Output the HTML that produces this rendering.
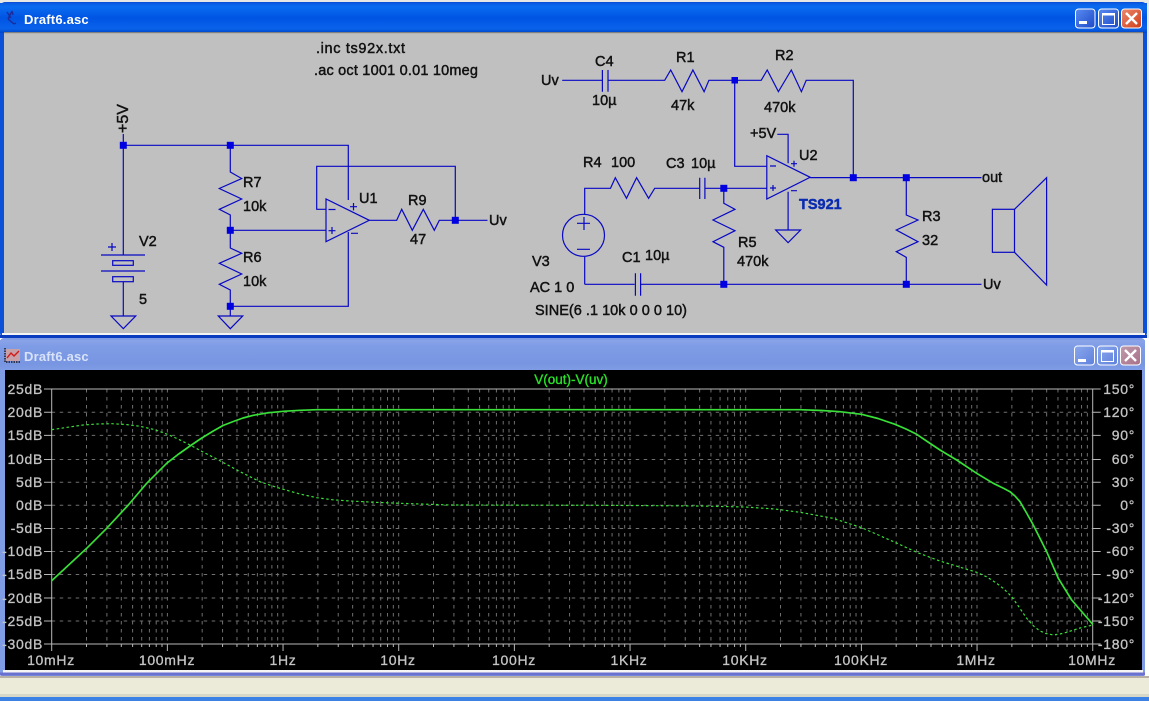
<!DOCTYPE html>
<html><head><meta charset="utf-8"><style>
html,body{margin:0;padding:0;background:#fff;width:1149px;height:701px;overflow:hidden}
svg{position:absolute;left:0;top:0;display:block}
.s text{font-family:"Liberation Sans",sans-serif;font-size:14.5px;fill:#111;stroke:#111;stroke-width:.45}
.p text{font-family:"Liberation Sans",sans-serif;font-size:14px;fill:#c4c4c4;stroke:#c4c4c4;stroke-width:.3;letter-spacing:.7px}
.w{fill:none;stroke:#0808c4;stroke-width:1.2}
.j{fill:#0000e0}
.t{font-family:"Liberation Sans",sans-serif;font-size:13px;font-weight:bold;letter-spacing:.2px}
</style></head><body>
<svg width="1149" height="701" viewBox="0 0 1149 701">
<defs>
<linearGradient id="tb" x1="0" y1="0" x2="0" y2="1"><stop offset="0" stop-color="#0a5ae0"/><stop offset=".12" stop-color="#0a6cf0"/><stop offset=".5" stop-color="#0054e3"/><stop offset=".85" stop-color="#0a62ea"/><stop offset="1" stop-color="#0046c8"/></linearGradient>
<linearGradient id="tb2" x1="0" y1="0" x2="0" y2="1"><stop offset="0" stop-color="#8ba4e8"/><stop offset=".2" stop-color="#7f9ce6"/><stop offset=".8" stop-color="#7895e2"/><stop offset="1" stop-color="#7f9ce4"/></linearGradient>
<linearGradient id="bb" x1="0" y1="0" x2="1" y2="1"><stop offset="0" stop-color="#5a8cf0"/><stop offset="1" stop-color="#1c48c8"/></linearGradient>
<linearGradient id="rb" x1="0" y1="0" x2="1" y2="1"><stop offset="0" stop-color="#ec8a6c"/><stop offset="1" stop-color="#d03c18"/></linearGradient>
<linearGradient id="bb2" x1="0" y1="0" x2="1" y2="1"><stop offset="0" stop-color="#8aa8ec"/><stop offset="1" stop-color="#5f80dc"/></linearGradient>
<linearGradient id="rb2" x1="0" y1="0" x2="1" y2="1"><stop offset="0" stop-color="#c09aac"/><stop offset="1" stop-color="#a87088"/></linearGradient>
<g id="dec" fill="none" stroke="#707070" stroke-width="1" stroke-dasharray="3.5 4.5">
<path d="M34.8 389V644M55.2 389V644M69.6 389V644M80.9 389V644M90 389V644M97.7 389V644M104.5 389V644M110.3 389V644"/>
</g>
<g id="tick" fill="none" stroke="#b8b8b8" stroke-width="1">
<path d="M34.8 644v3M55.2 644v3M69.6 644v3M80.9 644v3M90 644v3M97.7 644v3M104.5 644v3M110.3 644v3M115.67 644v7"/>
</g>
</defs>

<!-- window frames -->
<rect x="0" y="0" width="1149" height="3" fill="#e8e8e4"/>
<rect x="0" y="2" width="1147" height="336" rx="5" fill="#0a50d8"/>
<rect x="0" y="3" width="1147" height="30" fill="url(#tb)"/>
<rect x="4" y="32" width="1139" height="301" fill="#c0c0c0"/>
<rect x="4" y="32" width="1139" height="1.2" fill="#808080"/>
<rect x="2" y="333" width="1143" height="2" fill="#f4f4f4"/>
<rect x="0" y="335" width="1147" height="3" fill="#0a3cc0"/>
<rect x="1147" y="0" width="2" height="338" fill="#e8e8e4"/>

<rect x="0" y="338" width="1145" height="339" rx="4" fill="#7f9ce4"/>
<rect x="0" y="340" width="1145" height="30" fill="url(#tb2)"/>
<rect x="5" y="370" width="1137" height="300" fill="#000"/>
<rect x="3" y="670" width="1140" height="2.5" fill="#f4f4f4"/>
<rect x="0" y="672.5" width="1145" height="3" fill="#6a70d0"/>
<rect x="0" y="676" width="1149" height="2" fill="#b8b0a4"/>
<rect x="0" y="678" width="1149" height="19" fill="#ecead8"/>
<rect x="0" y="694" width="1149" height="3" fill="#d8d8c8"/>
<rect x="0" y="697" width="1149" height="4" fill="#3c82e4"/>

<!-- title text -->
<path d="M8 19l4-8M12 11l1 4M8 19l6 5M14 24l2-1M7 12l4 6" fill="none" stroke="#1a2c9c" stroke-width="1.4"/>
<text x="24" y="24" fill="#fff" class="t">Draft6.asc</text>
<rect x="6" y="349" width="14" height="12" fill="#c8a0a8"/>
<path d="M7 358l4-5 3 3 5-5" fill="none" stroke="#d01818" stroke-width="1.4"/>
<path d="M5 348v14h16" fill="none" stroke="#000" stroke-width="1.2" stroke-dasharray="1.5 1"/>
<text x="24" y="361" fill="#d8e2f8" class="t">Draft6.asc</text>

<!-- buttons -->
<g stroke="#fff" stroke-width="1">
<rect x="1075.5" y="9" width="19.5" height="19" rx="3" fill="url(#bb)"/>
<rect x="1098.5" y="9" width="20" height="19" rx="3" fill="url(#bb)"/>
<rect x="1121.5" y="9" width="20" height="19" rx="3" fill="url(#rb)"/>
<rect x="1074.5" y="346" width="20" height="19" rx="3" fill="url(#bb2)"/>
<rect x="1097.5" y="346" width="20" height="19" rx="3" fill="url(#bb2)"/>
<rect x="1120.5" y="346" width="20" height="19" rx="3" fill="url(#rb2)"/>
</g>
<g fill="#fff" stroke="none">
<rect x="1079" y="21" width="8" height="3"/>
<rect x="1078" y="359" width="8" height="3"/>
</g>
<g fill="none" stroke="#fff">
<rect x="1102.5" y="13.5" width="12" height="11" stroke-width="1"/><path d="M1102.5 14.5h12" stroke-width="2"/>
<rect x="1101.5" y="350.5" width="12" height="11" stroke-width="1"/><path d="M1101.5 351.5h12" stroke-width="2"/>
<path d="M1126 13l11 11M1137 13l-11 11" stroke-width="2.4"/>
<path d="M1125 350l11 11M1136 350l-11 11" stroke-width="2.4"/>
</g>

<!-- schematic wires -->
<g class="w">
<!-- left -->
<path d="M123.3 134V255"/>
<path d="M123.3 145.3H348.3V200"/>
<path d="M230.3 145.3V172L241.7 178.5 219.3 188.5 241.7 199 219.3 209.3 230.3 215V248L241.7 253.3 219.3 263.3 241.7 274 219.3 284.3 230.3 290V316"/>
<path d="M230.3 306.3H348.3V232"/>
<path d="M230.3 230.3H326"/>
<path d="M326 199V241.7L369.3 220.3Z"/>
<path d="M326 209.3H316.7V166.3H455.3V220.3"/>
<path d="M369.3 220.3H396.7L401.7 209.3 412.3 230.3 423.3 209.3 434.3 230.3 439.3 220.3H487.5"/>
<path d="M101 255H145M101 271H145"/>
<rect x="112.7" y="260.7" width="20.6" height="4.6"/>
<rect x="112.7" y="276.7" width="20.6" height="5"/>
<path d="M123.3 282V316"/>
<path d="M111 316H135.7L123.3 328.7Z"/>
<path d="M218.3 316H242.7L230.3 328.7Z"/>
<path d="M108 247h8M112 243v8"/>
<path d="M350 206.7h7M353.5 203v7.4M351 233.3h7M328.5 209.5h7M328.5 230.7h7M332 227v7"/>
<!-- right -->
<path d="M562.2 80.3H602.4M608 80.3H664.7L670.7 70 682 91.7 692.9 70 704.1 91.7 708.9 80.3H761.2L767.2 70 778.4 91.7 791.3 70 801.4 91.7 806.2 80.3H853.3V177.7"/>
<path d="M602.4 70V91.7M608 70V91.7"/>
<path d="M734.7 80.3V166.3H766.8"/>
<path d="M766.8 155.7V199L810.2 177.3Z"/>
<path d="M810.2 177.6H981.5"/>
<path d="M906.3 177.7V215L918 220 896.3 230 918 241.7 896.3 251.7 906.3 257.3V284.3"/>
<path d="M584.7 284.3H634.6M640.6 284.3H981.5"/>
<path d="M635.4 273.3V295.7M640.6 273.3V295.7"/>
<path d="M723.8 188.3V203.3L735 209.3 713 220 735 230.7 713 241.7 723.8 247.3V284.3"/>
<path d="M766.8 188.3H704.9M699.7 188.3H654.7L648.6 198.3 636.6 177.7 626.5 198.3 615.3 177.7 610.5 188.3H584.7V214"/>
<path d="M699.7 177.7V199M704.9 177.7V199"/>
<ellipse cx="583.5" cy="235.3" rx="21" ry="21"/>
<path d="M584.7 256.7V284.3"/>
<path d="M577 223.3h13M584 217v13M577 249.3h13"/>
<path d="M777.3 134.3H788.1V163.3M788.1 191.7V230"/>
<path d="M775.7 230H800.6L788.1 242.7Z"/>
<path d="M770 166h6M770 188h6M773 185v6M791 163.7h6M794 160.7v6M791 190.7h6"/>
<rect x="992.4" y="209.3" width="22.1" height="43"/>
<path d="M1014.5 209.3L1046.6 177.7V285L1014.5 252.3"/>
</g>
<g class="j">
<rect x="119.8" y="141.8" width="7" height="7"/>
<rect x="226.8" y="141.8" width="7" height="7"/>
<rect x="226.8" y="226.8" width="7" height="7"/>
<rect x="226.8" y="302.8" width="7" height="7"/>
<rect x="451.8" y="216.8" width="7" height="7"/>
<rect x="731.5" y="77" width="6.5" height="6.5"/>
<rect x="849.8" y="174.2" width="7" height="7"/>
<rect x="902.8" y="174.2" width="7" height="7"/>
<rect x="720.3" y="184.8" width="7" height="7"/>
<rect x="720.3" y="280.8" width="7" height="7"/>
<rect x="902.8" y="280.8" width="7" height="7"/>
</g>

<!-- schematic labels -->
<g class="s">
<text x="316" y="53" textLength="89">.inc ts92x.txt</text>
<text x="314" y="75" textLength="164">.ac oct 1001 0.01 10meg</text>
<text transform="translate(128,133) rotate(-90)" style="font-size:16px">+5V</text>
<text x="139" y="246">V2</text><text x="139" y="304">5</text>
<text x="243" y="187">R7</text><text x="243" y="211">10k</text>
<text x="243" y="262">R6</text><text x="243" y="286">10k</text>
<text x="359" y="203">U1</text><text x="408" y="205">R9</text><text x="410" y="244">47</text>
<text x="489" y="225">Uv</text>
<text x="541" y="85">Uv</text>
<text x="595" y="66">C4</text><text x="592" y="105">10µ</text>
<text x="676" y="62">R1</text><text x="671" y="110">47k</text>
<text x="775" y="60">R2</text><text x="764" y="112">470k</text>
<text x="750" y="138">+5V</text><text x="799" y="160">U2</text>
<text x="583" y="167">R4</text><text x="611" y="167">100</text>
<text x="666" y="168">C3</text><text x="691" y="168">10µ</text>
<text x="799" y="209" style="fill:#0a2cb0;stroke:#0a2cb0;font-weight:bold">TS921</text>
<text x="738" y="247">R5</text><text x="737" y="266">470k</text>
<text x="922" y="221">R3</text><text x="922" y="245">32</text>
<text x="982" y="182">out</text><text x="983" y="289">Uv</text>
<text x="532" y="266">V3</text><text x="530" y="292">AC 1 0</text>
<text x="622" y="262">C1</text><text x="645" y="260">10µ</text>
<text x="535" y="315" textLength="152">SINE(6 .1 10k 0 0 0 10)</text>
</g>

<!-- plot grid -->
<g fill="none" stroke="#707070" stroke-width="1" stroke-dasharray="3.5 4.5">
<path d="M51.7 412.2H1092.7M51.7 435.4H1092.7M51.7 459.5H1092.7M51.7 482.2H1092.7M51.7 505.3H1092.7M51.7 528.5H1092.7M51.7 551.5H1092.7M51.7 574.5H1092.7M51.7 598H1092.7M51.7 621H1092.7"/>
</g>
<use href="#dec" transform="translate(51.7 0)"/><use href="#dec" transform="translate(167.37 0)"/>
<use href="#dec" transform="translate(283.04 0)"/><use href="#dec" transform="translate(398.71 0)"/>
<use href="#dec" transform="translate(514.38 0)"/><use href="#dec" transform="translate(630.05 0)"/>
<use href="#dec" transform="translate(745.72 0)"/><use href="#dec" transform="translate(861.39 0)"/>
<use href="#dec" transform="translate(977.06 0)"/>
<g fill="none" stroke="#707070" stroke-dasharray="3.5 4.5"><path d="M167.4 389V644M283 389V644M398.7 389V644M514.4 389V644M630 389V644M745.7 389V644M861.4 389V644M977 389V644"/></g>
<use href="#tick" transform="translate(51.7 0)"/><use href="#tick" transform="translate(167.37 0)"/>
<use href="#tick" transform="translate(283.04 0)"/><use href="#tick" transform="translate(398.71 0)"/>
<use href="#tick" transform="translate(514.38 0)"/><use href="#tick" transform="translate(630.05 0)"/>
<use href="#tick" transform="translate(745.72 0)"/><use href="#tick" transform="translate(861.39 0)"/>
<use href="#tick" transform="translate(977.06 0)"/>
<g fill="none" stroke="#b8b8b8" stroke-width="1">
<rect x="51.7" y="389" width="1041" height="255"/>
<path d="M51.7 644v7M44 389h8M44 412.2h8M44 435.4h8M44 459.5h8M44 482.2h8M44 505.3h8M44 528.5h8M44 551.5h8M44 574.5h8M44 598h8M44 621h8M44 644h8"/>
<path d="M1092.7 389h8M1092.7 412.2h8M1092.7 435.4h8M1092.7 459.5h8M1092.7 482.2h8M1092.7 505.3h8M1092.7 528.5h8M1092.7 551.5h8M1092.7 574.5h8M1092.7 598h8M1092.7 621h8M1092.7 644h8"/>
</g>

<!-- curves -->
<polyline fill="none" stroke="#38e038" stroke-width="1.7" stroke-linejoin="round" points="51.7,580.7 86.7,548.3 106.7,528.3 128.3,505 146.7,483.3 166.7,463.3 178,454.5 190,446 201,438.5 213.3,431 223,425.5 233.3,421.5 243,418 253.3,415.3 268,412.8 283.3,411.3 300,410.3 316.7,409.7 800,409.7 822,410.5 840,411.7 861.7,414.3 878,418.5 895,424.3 906,429 916.7,434.3 928,442 940,450 956.7,460 976.7,473.3 993.3,483.3 1004,488.5 1010,491.7 1015,496 1020,501.7 1026,512 1033.3,525 1046.7,551.7 1058.3,578.3 1071.7,600 1092.7,624.3"/>
<polyline fill="none" stroke="#38e038" stroke-width="1.2" stroke-dasharray="2.5 2.5" points="51.7,429.7 66,427.5 83.3,425 97,424 111.7,423.7 126,424.5 140,426.3 154,429.5 166.7,434 178,439 190,445 203,452 216.7,459 240,471.7 260,481.7 271,485.5 283.3,489.3 300,494 316.7,497.7 333,499.8 350,501 375,502.3 400,503.3 450,505 600,505.3 700,506 745,507 775,509 800,512.3 833,518.3 861.7,527.7 895,542.3 916.7,552.3 940,561 976.7,572.3 987,577 996.7,583.3 1004,589 1011.7,596.7 1019,607 1026.7,618.3 1033,625.5 1040,631 1046,633.5 1053.3,635 1060,634 1066.7,632.3 1080,628 1092.7,625"/>

<!-- plot labels -->
<g class="p">
<g text-anchor="end">
<text x="43" y="394">25dB</text><text x="43" y="417">20dB</text><text x="43" y="440">15dB</text><text x="43" y="464">10dB</text><text x="43" y="487">5dB</text><text x="43" y="510">0dB</text><text x="43" y="533">-5dB</text><text x="43" y="556">-10dB</text><text x="43" y="579">-15dB</text><text x="43" y="603">-20dB</text><text x="43" y="626">-25dB</text><text x="43" y="649">-30dB</text>
<text x="1135" y="394">150°</text><text x="1135" y="417">120°</text><text x="1135" y="440">90°</text><text x="1135" y="464">60°</text><text x="1135" y="487">30°</text><text x="1135" y="510">0°</text><text x="1135" y="533">-30°</text><text x="1135" y="556">-60°</text><text x="1135" y="579">-90°</text><text x="1135" y="603">-120°</text><text x="1135" y="626">-150°</text><text x="1135" y="649">-180°</text>
</g>
<g text-anchor="middle">
<text x="51" y="665">10mHz</text><text x="167" y="665">100mHz</text><text x="283" y="665">1Hz</text><text x="398" y="665">10Hz</text><text x="514" y="665">100Hz</text><text x="629" y="665">1KHz</text><text x="745" y="665">10KHz</text><text x="861" y="665">100KHz</text><text x="976" y="665">1MHz</text><text x="1092" y="665">10MHz</text>
</g>
</g>
<text x="571" y="384" text-anchor="middle" font-family="Liberation Sans, sans-serif" font-size="13.5" fill="#28e028" stroke="#28e028" stroke-width=".35">V(out)-V(uv)</text>
</svg>
</body></html>
